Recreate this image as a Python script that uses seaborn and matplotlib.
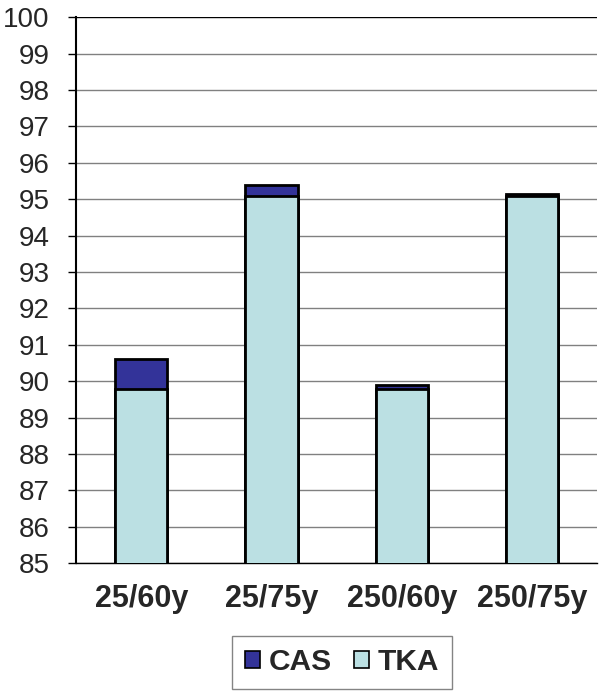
import matplotlib
matplotlib.use("Agg")
import matplotlib.pyplot as plt
import seaborn as sns
import pandas as pd
from matplotlib.patches import Patch

categories = ["25/60y", "25/75y", "250/60y", "250/75y"]
tka = [89.8, 95.1, 89.8, 95.1]
cas = [0.8, 0.3, 0.1, 0.05]
yticks = list(range(85, 101))

sns.set_style("white")
plt.rcParams['font.family'] = ['Liberation Sans', 'DejaVu Sans']

total = [t + c for t, c in zip(tka, cas)]
df = pd.DataFrame({"cat": categories, "tka": tka, "total": total})

fig = plt.figure(figsize=(6, 6.92), dpi=100)
ax = fig.add_axes([0.127, 0.186, 0.868, 0.789])

ax.set_axisbelow(True)
for y in yticks[:-1]:
    ax.axhline(y, color="#808080", lw=1, zorder=0)
ax.axhline(100, color="black", lw=1, zorder=0)

c_cas = "#333399"
c_tka = "#BBE0E3"
sns.barplot(data=df, x="cat", y="total", color=c_cas, width=0.4,
            edgecolor="black", linewidth=2, saturation=1, ax=ax, zorder=2)
sns.barplot(data=df, x="cat", y="tka", color=c_tka, width=0.4,
            edgecolor="black", linewidth=2, saturation=1, ax=ax, zorder=3)

ax.set_ylim(85, 100)
ax.set_xlim(-0.5, 3.5)
ax.set_yticks(yticks)
ax.set_yticklabels([str(v) for v in yticks], fontsize=20)
ax.set_xticks(range(len(categories)))
ax.set_xticklabels(categories, fontsize=22, fontweight="bold")
ax.set_xticks([i - 0.5 for i in range(len(categories) + 1)], minor=True)
ax.tick_params(axis="x", which="major", length=0, pad=15)
ax.tick_params(axis="x", which="minor", length=5, width=1, color="black", direction="out")
ax.tick_params(axis="y", length=6, width=1, color="black", direction="out", left=True, pad=13)
ax.set_xlabel("")
ax.set_ylabel("")
for s in ["top", "right"]:
    ax.spines[s].set_visible(False)
ax.spines["left"].set_color("black")
ax.spines["left"].set_linewidth(1.5)
ax.spines["bottom"].set_color("black")
ax.spines["bottom"].set_linewidth(1)

handles = [Patch(facecolor=c_cas, edgecolor="black", lw=1.2, label="CAS"),
           Patch(facecolor=c_tka, edgecolor="black", lw=1.2, label="TKA")]
leg = fig.legend(handles=handles, loc="lower center", bbox_to_anchor=(0.57, 0.0),
                 ncol=2, frameon=True, fancybox=False, edgecolor="#666666",
                 prop={"size": 21.5, "weight": "bold"}, handlelength=0.5, handleheight=0.5,
                 handletextpad=0.3, columnspacing=0.75, borderpad=0.42, borderaxespad=0.1)
leg.get_frame().set_linewidth(1)

fig.savefig("out.png", dpi=100)
